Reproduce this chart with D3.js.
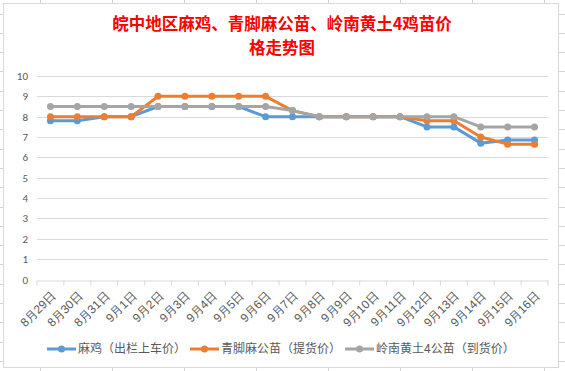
<!DOCTYPE html>
<html>
<head>
<meta charset="utf-8">
<script src="https://cdn.jsdelivr.net/npm/d3@7"></script>
<style>
  body { margin: 0; background: #fff; }
  svg { display: block; font-family: "Noto Sans CJK SC", "Microsoft YaHei", sans-serif; }
</style>
</head>
<body>
<div id="chart"></div>
<script>
// data
var dates = ["8月29日", "8月30日", "8月31日", "9月1日", "9月2日", "9月3日", "9月4日", "9月5日", "9月6日",
    "9月7日", "9月8日", "9月9日", "9月10日", "9月11日", "9月12日", "9月13日", "9月14日", "9月15日", "9月16日"];
var maji = [7.8, 7.8, 8.0, 8.0, 8.5, 8.5, 8.5, 8.5, 8.0, 8.0, 8.0, 8.0, 8.0, 8.0, 7.5, 7.5, 6.7, 6.85, 6.85];
var qingjiao = [8.0, 8.0, 8.0, 8.0, 9.0, 9.0, 9.0, 9.0, 9.0, 8.3, 8.0, 8.0, 8.0, 8.0, 7.8, 7.8, 7.0, 6.65, 6.65];
var lingnan = [8.5, 8.5, 8.5, 8.5, 8.5, 8.5, 8.5, 8.5, 8.5, 8.3, 8.0, 8.0, 8.0, 8.0, 8.0, 8.0, 7.5, 7.5, 7.5];
var seriesNames = ["麻鸡（出栏上车价）", "青脚麻公苗（提货价）", "岭南黄土4公苗（到货价）"];
var seriesColors = ["#5b9bd5", "#ed7d31", "#a5a5a5"];
var yTicks = [0, 1, 2, 3, 4, 5, 6, 7, 8, 9, 10];
var titleLines = ["皖中地区麻鸡、青脚麻公苗、岭南黄土4鸡苗价", "格走势图"];

var W = 565, H = 371;
var margin = { top: 76, left: 37 },
    width = 511,
    height = 203.5;

var svg = d3.select("#chart").append("svg")
    .attr("width", W)
    .attr("height", H);

// spreadsheet cells behind the chart
var sheet = svg.append("g").attr("stroke", "#d4d4d4").attr("stroke-width", 1);
d3.range(40.5, W, 72).forEach(function(x) {
    sheet.append("line").attr("x1", x).attr("x2", x).attr("y1", 0).attr("y2", H);
});
d3.range(13.5, H, 19.3).forEach(function(y) {
    sheet.append("line").attr("x1", 0).attr("x2", W).attr("y1", Math.round(y) + 0.5).attr("y2", Math.round(y) + 0.5);
});

// chart box
svg.append("rect")
    .attr("x", 3.5).attr("y", 3.5)
    .attr("width", 555).attr("height", 364)
    .attr("fill", "#fff")
    .attr("stroke", "#d9d9d9");

// title, two lines
svg.append("g").selectAll("text")
    .data(titleLines)
    .enter().append("text")
    .attr("x", 282)
    .attr("y", (d, i) => 29.5 + i * 24)
    .attr("text-anchor", "middle")
    .style("font-size", "16.5px")
    .style("font-weight", "bold")
    .style("fill", "#ff0000")
    .text(d => d);

var g = svg.append("g")
    .attr("transform", "translate(" + margin.left + "," + margin.top + ")");

var x = d3.scaleBand()
    .domain(dates)
    .range([0, width]);

var y = d3.scaleLinear()
    .domain([0, 10])
    .range([height, 0]);

// gridlines
g.append("g")
    .selectAll("line")
    .data(yTicks.filter(d => d > 0))
    .enter().append("line")
    .attr("x1", 0).attr("x2", width)
    .attr("y1", d => Math.round(y(d)) + 0.5)
    .attr("y2", d => Math.round(y(d)) + 0.5)
    .attr("stroke", "#d9d9d9");

// y axis labels
var yAxis = g.append("g")
    .attr("class", "yAxis")
    .call(d3.axisLeft(y).tickValues(yTicks).tickSize(0).tickPadding(9));
yAxis.select(".domain").remove();
yAxis.selectAll("text")
    .style("font-family", "Carlito, Calibri, 'Liberation Sans', sans-serif")
    .style("font-size", "11px")
    .style("fill", "#595959");

// x axis
var xAxis = g.append("g")
    .attr("class", "xAxis")
    .attr("transform", "translate(0," + (Math.round(y(0)) + 0.5) + ")")
    .call(d3.axisBottom(x).tickSize(0).tickPadding(0));
xAxis.select(".domain").attr("stroke", "#d9d9d9");
xAxis.selectAll(".tick").each(function() {
    // tick marks at the category borders
    d3.select(this).append("line")
        .attr("x1", -x.bandwidth() / 2).attr("x2", -x.bandwidth() / 2)
        .attr("y1", 0).attr("y2", 5)
        .attr("stroke", "#d9d9d9");
});
xAxis.append("line")
    .attr("x1", width).attr("x2", width).attr("y1", 0).attr("y2", 5)
    .attr("stroke", "#d9d9d9");
xAxis.selectAll("text")
    .attr("transform", "translate(3,13) rotate(-45)")
    .attr("dy", "0.35em")
    .style("text-anchor", "end")
    .style("font-size", "12px")
    .style("fill", "#595959");

// lines and markers
var all = [maji, qingjiao, lingnan];
var line = d3.line()
    .x((d, i) => x(dates[i]) + x.bandwidth() / 2)
    .y(d => y(d));

all.forEach(function(vals, k) {
    var s = g.append("g").attr("class", "series-" + k);
    s.append("path")
        .datum(vals)
        .attr("d", line)
        .attr("fill", "none")
        .attr("stroke", seriesColors[k])
        .attr("stroke-width", 3)
        .attr("stroke-linejoin", "round")
        .attr("stroke-linecap", "round");
    s.selectAll("circle")
        .data(vals)
        .enter().append("circle")
        .attr("cx", (d, i) => x(dates[i]) + x.bandwidth() / 2)
        .attr("cy", d => y(d))
        .attr("r", 3.5)
        .attr("fill", seriesColors[k]);
});

// legend
var legendX = [47, 190, 345];
var legend = svg.append("g").attr("transform", "translate(0,349)");
seriesNames.forEach(function(name, k) {
    var item = legend.append("g").attr("transform", "translate(" + legendX[k] + ",0)");
    item.append("line")
        .attr("x1", 0).attr("x2", 29)
        .attr("stroke", seriesColors[k])
        .attr("stroke-width", 3);
    item.append("circle")
        .attr("cx", 14.5)
        .attr("r", 3.5)
        .attr("fill", seriesColors[k]);
    item.append("text")
        .attr("x", 31)
        .attr("dy", "0.35em")
        .style("font-size", "12px")
        .style("fill", "#595959")
        .text(name);
});
</script>
</body>
</html>
